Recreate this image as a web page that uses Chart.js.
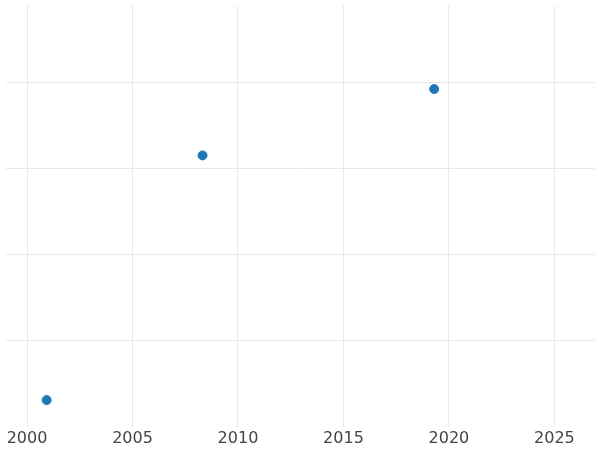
<!DOCTYPE html>
<html>
<head>
<script src="https://cdn.jsdelivr.net/npm/chart.js@4"></script>
<style>body{margin:0;background:#fff}</style>
</head>
<body>
<canvas id="c" width="600" height="450"></canvas>
<script>
var years = [2000.93, 2008.32, 2019.3];
var values = [0.31, 3.15, 3.92];
var xTicks = [2000, 2005, 2010, 2015, 2020, 2025];
var yTicks = [1, 2, 3, 4];

new Chart(document.getElementById("c"), {
	type: 'scatter',
	data: {
		datasets: [{
			data: years.map(function (y, i) { return { x: y, y: values[i] }; }),
			backgroundColor: "#1f77b4",
			borderColor: "#1f77b4",
			pointRadius: 4.5
		}]
	},
	options: {
		responsive: false,
		animation: false,
		layout: { padding: { left: -6, right: -6, top: -5, bottom: 0 } },
		plugins: { legend: { display: false }, tooltip: { enabled: false } },
		scales: {
			x: {
				type: 'linear',
				min: 1998.98,
				max: 2026.9,
				afterBuildTicks: function (axis) {
					axis.ticks = xTicks.map(function (v) { return { value: v }; });
				},
				ticks: { color: "#444", font: { family: "DejaVu Sans", size: 16 }, padding: 2, maxRotation: 0, callback: function (v) { return v; } },
				grid: { color: "#e8e8e8", drawTicks: false },
				border: { display: false }
			},
			y: {
				min: 0,
				max: 4.89,
				afterBuildTicks: function (axis) {
					axis.ticks = yTicks.map(function (v) { return { value: v }; });
				},
				ticks: { display: false },
				grid: { color: "#e8e8e8", drawTicks: false },
				border: { display: false }
			}
		}
	}
});
</script>
</body>
</html>
